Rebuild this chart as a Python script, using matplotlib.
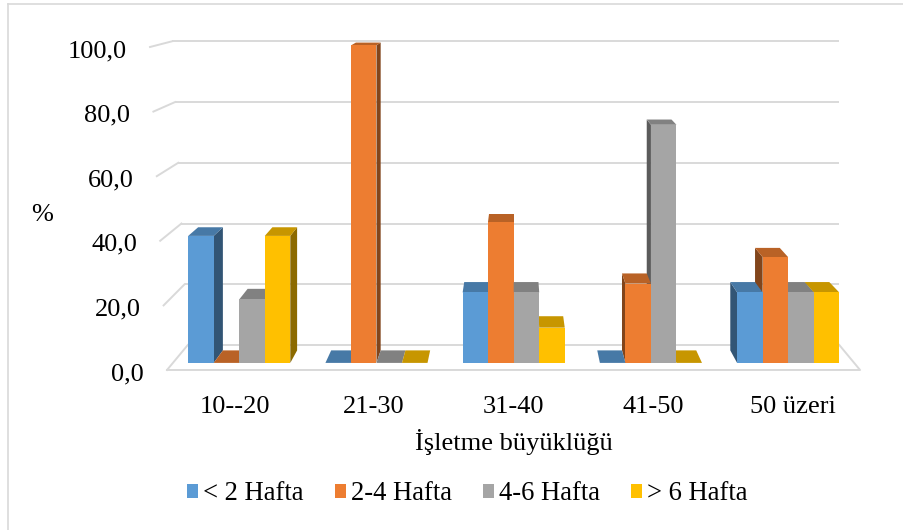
import matplotlib
matplotlib.use("Agg")
import matplotlib.pyplot as plt
from matplotlib.patches import Polygon, Patch
from matplotlib.lines import Line2D
from matplotlib import transforms
import numpy as np

categories = ["10--20", "21-30", "31-40", "41-50", "50 üzeri"]
series_names = ["< 2 Hafta", "2-4 Hafta", "4-6 Hafta", "> 6 Hafta"]
v_lt2 = [40.0, 0.0, 22.2, 0.0, 22.2]
v_2to4 = [0.0, 100.0, 44.4, 25.0, 33.3]
v_4to6 = [20.0, 0.0, 22.2, 75.0, 22.2]
v_gt6 = [40.0, 0.0, 11.1, 0.0, 22.2]
series_values = [v_lt2, v_2to4, v_4to6, v_gt6]
yticks = [0, 20, 40, 60, 80, 100]
ytick_labels = ["0,0", "20,0", "40,0", "60,0", "80,0", "100,0"]
x_title = "İşletme büyüklüğü"
y_title = "%"

colors = ["#5B9BD5", "#ED7D31", "#A5A5A5", "#FFC000"]

FONT = "Liberation Serif"
FS = 19
GRID = "#D9D9D9"

fig = plt.figure(figsize=(9.04, 5.30), dpi=100)
ax = fig.add_axes([0, 0, 1, 1])
ax.set_xlim(-1.6798, 4.7958)
ax.set_ylim(-49.54, 114.55)
ax.axis("off")

# perspective parameters (front-frame data units)
vx, vy = 2.0, 129.1
s_front_bar, s_back_bar, s_back = 0.983, 0.953, 0.94
w = 0.186


def proj(x, y, s):
    return (vx + (x - vx) * s, vy + (y - vy) * s)


def darker(c, f):
    r, g, b = matplotlib.colors.to_rgb(c)
    return (r * f, g * f, b * f)


def x_front_left(v):
    return -0.4835 - 0.001218 * v


x_front_right = 4.481

# back wall gridlines + left stubs
for v in yticks:
    xl = x_front_left(v)
    bl = proj(xl, v, s_back)
    br = proj(x_front_right, v, s_back)
    ax.plot([bl[0], br[0]], [bl[1], br[1]], color=GRID, lw=1.4, zorder=1,
            solid_capstyle="butt")
    ax.plot([xl, bl[0]], [v, bl[1]], color=GRID, lw=1.4, zorder=1)

# floor front and right edges
fl = (x_front_left(0), 0)
fr = (x_front_right, 0)
brr = proj(x_front_right, 0, s_back)
ax.plot([fl[0], fr[0], brr[0]], [fl[1], fr[1], brr[1]], color=GRID, lw=1.4,
        zorder=1)

# bars
bars = []
for j, vals in enumerate(series_values):
    for i, v in enumerate(vals):
        xl = i - 2 * w + j * w
        xr = xl + w
        bars.append((abs((xl + xr) / 2 - vx), i, j, xl, xr, v))
bars.sort(key=lambda t: -t[0])
for k, (dist, i, j, xl, xr, v) in enumerate(bars):
    z = 2 + k * 0.01
    c = colors[j]
    xs = xr if (xl + xr) / 2 < vx else xl
    side = [proj(xs, 0, s_front_bar), proj(xs, v, s_front_bar),
            proj(xs, v, s_back_bar), proj(xs, 0, s_back_bar)]
    ax.add_patch(Polygon(side, closed=True, facecolor=darker(c, 0.55),
                         edgecolor="none", zorder=z))
    top = [proj(xl, v, s_front_bar), proj(xr, v, s_front_bar),
           proj(xr, v, s_back_bar), proj(xl, v, s_back_bar)]
    ax.add_patch(Polygon(top, closed=True, facecolor=darker(c, 0.78),
                         edgecolor="none", zorder=z + 0.001))
    if v > 0:
        x0, y0 = proj(xl, 0, s_front_bar)
        ax.bar(x0, v * s_front_bar, width=w * s_front_bar, bottom=y0,
               align="edge", color=c, edgecolor="none", zorder=z + 0.002)

# y tick labels
for v, lab in zip(yticks, ytick_labels):
    tr = transforms.offset_copy(ax.transData, fig=fig, x=-23, y=-10,
                                units="dots")
    ax.text(x_front_left(v), v, lab, transform=tr, ha="right",
            va="baseline", fontsize=FS, family=FONT, color="#000000")

# category labels
for i, lab in enumerate(categories):
    tr = transforms.offset_copy(ax.transData, fig=fig, x=0, y=-43,
                                units="dots")
    ax.text(i, 0, lab, transform=tr, ha="center", va="baseline",
            fontsize=FS, family=FONT)

tr = transforms.offset_copy(ax.transData, fig=fig, x=0, y=-80, units="dots")
ax.text(2, 0, x_title, transform=tr, ha="center", va="baseline",
        fontsize=FS, family=FONT)

fig.text(42 / 904, 1 - 221 / 530, y_title, ha="center", va="baseline",
         fontsize=FS, family=FONT)

handles = [Patch(facecolor=c, edgecolor="none") for c in colors]
fig.legend(handles, series_names, loc="center", bbox_to_anchor=(0.517, 0.068),
           ncol=4, frameon=False, handlelength=0.42, handleheight=0.42,
           handletextpad=0.2, columnspacing=1.15, borderpad=0,
           prop={"family": FONT, "size": 19.2})

# chart border
fig.add_artist(Line2D([8 / 904, 1], [1 - 4 / 530, 1 - 4 / 530],
                      color=GRID, lw=1.2, transform=fig.transFigure))
fig.add_artist(Line2D([8 / 904, 8 / 904], [0, 1 - 4 / 530],
                      color=GRID, lw=1.2, transform=fig.transFigure))

fig.savefig("out.png", dpi=100)
